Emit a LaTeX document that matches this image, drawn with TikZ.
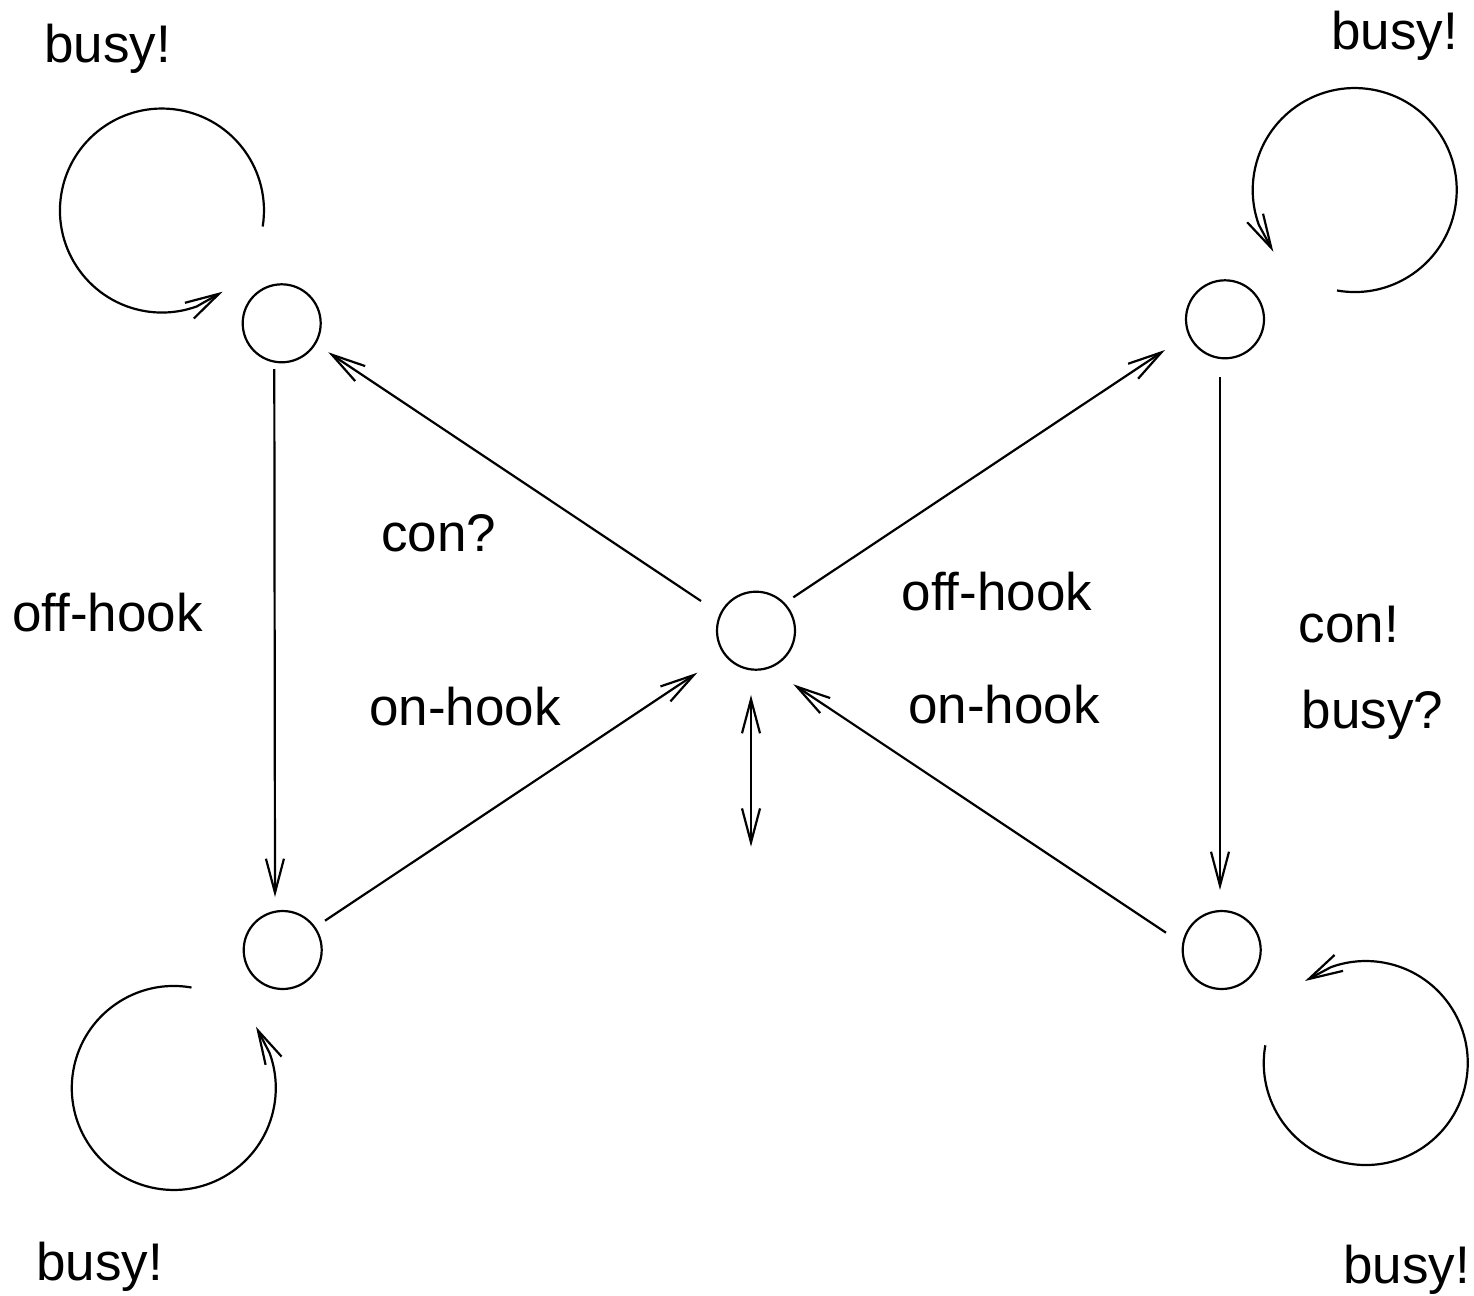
\documentclass[tikz,border=0pt]{standalone}
\usepackage{fontspec}
\setmainfont{Liberation Sans}[Ligatures=CommonOff]
\usetikzlibrary{arrows.meta,calc}
\begin{document}
\begin{tikzpicture}[x=1pt,y=-1pt,line width=2.2pt,
  state/.style={draw,circle,minimum size=78pt,inner sep=0pt},
  arr/.style={-{Straight Barb[length=34pt,width=18pt]}},
  lbl/.style={anchor=base west,inner sep=0pt,font=\fontsize{53}{60}\selectfont}]
\useasboundingbox (0,0) rectangle (1474,1295);
% states
\node[state] (tl) at (281.7,323.3) {};
\node[state] (tr) at (1225,319.3) {};
\node[state] (c)  at (756,630.7) {};
\node[state] (bl) at (282.7,950) {};
\node[state] (br) at (1221.7,950) {};
\coordinate (dn) at (751,846.7);
% transitions
\draw[arr] ($(tl)+(-7.4,45.7)$) -- ($(bl)+(-7.7,-53)$);
\draw[arr] ($(c)+(-55,-29.7)$) -- ($(tl)+(46.6,29)$);
\draw[arr] ($(c)+(37.3,-33.4)$) -- ($(tr)+(-60,30.7)$);
\draw[arr] ($(bl)+(42.3,-29.3)$) -- ($(c)+(-58.7,42)$);
\draw[arr] ($(br)+(-55.7,-17.3)$) -- ($(c)+(37.3,53.6)$);
\draw[arr] ($(tr)+(-5,57.7)$) -- ($(br)+(-1.7,-60)$);
\draw[{Straight Barb[length=34pt,width=18pt]}-{Straight Barb[length=34pt,width=18pt]}] ($(c)+(-5,64.3)$) -- (dn);
% self loops
\draw[arr] ($(tl)+(-19,-96.8)$) arc[start angle=9,end angle=-290,radius=102] -- ($(tl)+(-59,-31.6)$);
\draw[arr] ($(tr)+(112,-28.8)$) arc[start angle=100,end angle=-200,radius=102] -- ($(tr)+(48.3,-67.6)$);
\draw[arr] ($(bl)+(-91.2,37.5)$) arc[start angle=-80,end angle=-380,radius=102] -- ($(bl)+(-26.7,76.7)$);
\draw[arr] ($(br)+(43.6,95.3)$) arc[start angle=-170,end angle=-470,radius=102] -- ($(br)+(83.3,31)$);
% labels
\node[lbl] (l1) at (43,62.7) {busy!};
\node[lbl] (l2) at (1330,50) {busy!};
\node[lbl] (l3) at (11,631.7) {off-hook};
\node[lbl] (l4) at (380,551.7) {con?};
\node[lbl] (l5) at (368,725) {on-hook};
\node[lbl] (l6) at (900.5,610) {off-hook};
\node[lbl] (l7) at (907,723.3) {on-hook};
\node[lbl] (l8) at (1297.5,642.7) {con!};
\node[lbl] (l9) at (1300.5,728.3) {busy?};
\node[lbl] (l10) at (35,1280) {busy!};
\node[lbl] (l11) at (1342,1283) {busy!};
\end{tikzpicture}
\end{document}
